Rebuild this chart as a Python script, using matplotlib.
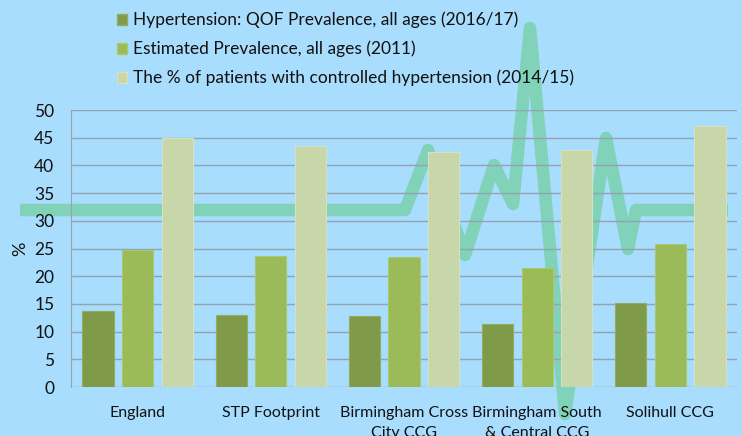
import matplotlib
matplotlib.use("Agg")
import matplotlib.pyplot as plt
import numpy as np
from matplotlib.patches import Patch

categories = ["England", "STP Footprint", "Birmingham Cross\nCity CCG",
              "Birmingham South\n& Central CCG", "Solihull CCG"]
qof_prev = [13.8, 13.0, 12.9, 11.3, 15.2]
est_prev = [24.7, 23.6, 23.5, 21.5, 25.9]
controlled = [44.9, 43.5, 42.5, 42.8, 47.1]
series_names = ["Hypertension: QOF Prevalence, all ages (2016/17)",
                "Estimated Prevalence, all ages (2011)",
                "The % of patients with controlled hypertension (2014/15)"]
yticks = list(range(0, 51, 5))

# decorative heartbeat background line (figure pixel coords, y from top)
heart_x = [20, 405, 428, 465, 494, 513, 530, 565, 606, 628, 636, 728]
heart_y = [210, 210, 150, 255, 165, 204, 28, 414, 138, 249, 210, 210]

colors = ["#7f9a48", "#9bbb59", "#c8d7aa"]
edges = ["#93ad5c", "#aac86c", "#d6e2bd"]
bg = "#a8ddfd"

W, H = 742, 436
fig = plt.figure(figsize=(W/100, H/100), dpi=100)
fig.patch.set_facecolor(bg)
plt.rcParams['font.family'] = ['Lato', 'DejaVu Sans']

# background decorative axes
bax = fig.add_axes([0, 0, 1, 1])
bax.set_xlim(0, W)
bax.set_ylim(H, 0)
bax.axis('off')
bax.plot(heart_x, heart_y, color="#80d2b8", lw=9, solid_joinstyle='round',
         solid_capstyle='butt', zorder=1)

left, right, top, bottom = 71, 737, 110, 387
ax = fig.add_axes([left/W, 1 - bottom/H, (right-left)/W, (bottom-top)/H])
ax.set_facecolor('none')
x = np.arange(len(categories))
w = 0.235
off = 0.297
for i, (vals, c, e) in enumerate(zip([qof_prev, est_prev, controlled], colors, edges)):
    ax.bar(x + (i-1)*off, vals, w, color=c, edgecolor=e, linewidth=0.8,
           label=series_names[i], zorder=3)

ax.set_xlim(-0.5, len(categories)-0.5)
ax.set_ylim(0, 50)
ax.set_yticks(yticks)
ax.yaxis.grid(True, color="#93a3b0", linewidth=1)
ax.set_axisbelow(True)
for s in ['top', 'right', 'bottom']:
    ax.spines[s].set_visible(False)
ax.spines['left'].set_color("#93a3b0")
ax.tick_params(axis='y', length=0, labelsize=12.5, pad=12, colors='#111111')
ax.tick_params(axis='x', length=0, labelsize=11.5, pad=14, colors='#111111')
ax.set_xticks(x)
ax.set_xticklabels(categories, linespacing=1.5)
ax.set_ylabel("%", fontsize=13, labelpad=4, color='#111111')

handles = [Patch(facecolor=c, edgecolor=e) for c, e in zip(colors, edges)]
fig.legend(handles, series_names, loc='upper left',
           bbox_to_anchor=(101/W, 1 + 4/H), frameon=False, fontsize=12.5,
           handlelength=0.6, handleheight=0.6, handletextpad=0.35,
           labelspacing=0.72, labelcolor='#111111')

fig.savefig("out.png", dpi=100, facecolor=bg)
